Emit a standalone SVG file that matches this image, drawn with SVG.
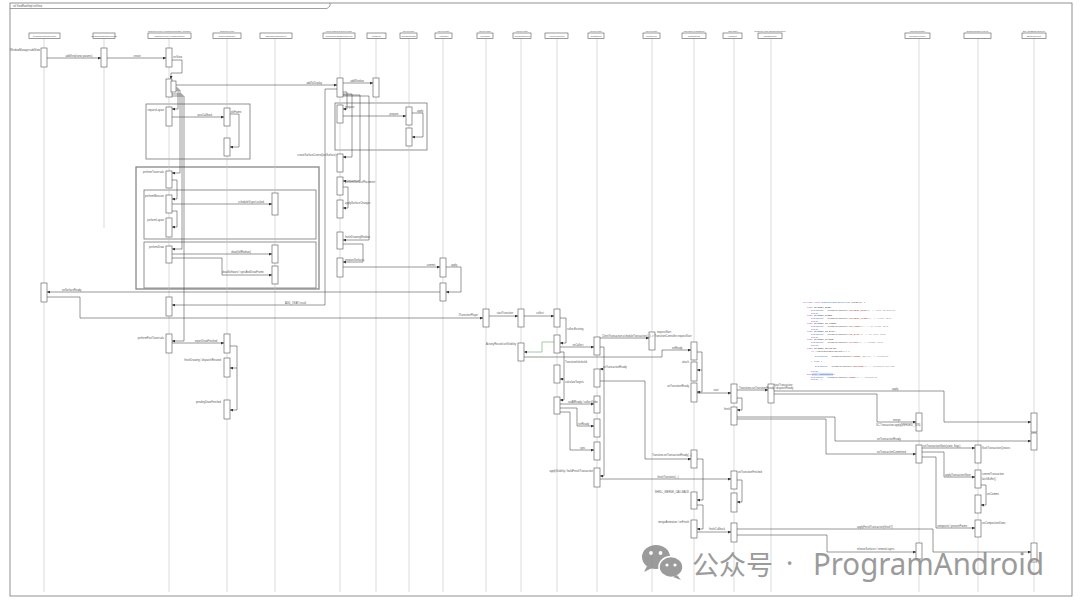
<svg xmlns="http://www.w3.org/2000/svg" width="1080" height="605" viewBox="0 0 1080 605">
<defs>
<style>
.ll{stroke:#c4c4c4;stroke-width:.6}
.hb{fill:#fff;stroke:#555;stroke-width:.6}
.act{fill:#fff;stroke:#555;stroke-width:.6}
.msg{fill:none;stroke:#444;stroke-width:.55;marker-end:url(#ah)}
.grn{fill:none;stroke:#6aa86a;stroke-width:.6;marker-end:url(#ah)}
.frag{fill:none;stroke:#777;stroke-width:.8}
.fragb{fill:none;stroke:#888;stroke-width:1.3}
.t{font-family:"Liberation Sans",Arial,sans-serif;font-size:2.6px;fill:#555}
.h{font-family:"Liberation Sans",Arial,sans-serif;font-size:2.5px;fill:#555;text-anchor:middle}
.e{text-anchor:end}
.m{text-anchor:middle}
.c{font-family:"Liberation Mono","Courier New",monospace;font-size:2.3px;fill:#333}
.kw{fill:#7a3e9d}
.fn{fill:#2b55b8}
.st{fill:#b03030}
.cm{fill:#8a8a8a}
</style>
<marker id="ah" viewBox="0 0 6 6" refX="6" refY="3" markerWidth="3" markerHeight="3" markerUnits="userSpaceOnUse" orient="auto"><path d="M0,0 L6,3 L0,6 z" fill="#333"/></marker>
</defs>
<rect x="0" y="0" width="1080" height="605" fill="#fff"/>

<g id="frame">
<rect x="10" y="3" width="1062" height="593" fill="none" stroke="#777" stroke-width="0.8"/>
<path d="M10,8.5 H327 L330,6 V3" fill="none" stroke="#777" stroke-width="0.7"/>
<text class="t" x="13" y="7">sd ViewRootImpl.setView</text>
</g>

<g id="fragments">
<rect class="frag" x="146" y="104" width="104" height="55"/>
<rect class="fragb" x="136" y="167" width="183" height="122"/>
<rect class="frag" x="144" y="190" width="172" height="49"/>
<rect class="frag" x="144" y="242" width="172" height="46"/>
<rect class="frag" x="335" y="103" width="92" height="47"/>
</g>

<g id="L1">
<line class="ll" x1="44" y1="38.5" x2="44" y2="592"/>
<rect class="hb" x="29" y="33" width="31" height="5.5"/>
<text class="h" x="44.5" y="36.7">WindowManagerImpl</text>
<rect class="act" x="41" y="48" width="6" height="19"/>
<rect class="act" x="41" y="283" width="6" height="19"/>
</g>
<g id="L2">
<line class="ll" x1="104" y1="38.5" x2="104" y2="228"/>
<rect class="hb" x="93" y="33" width="22" height="5.5"/>
<text class="h" x="104" y="36.7">WindowManagerGlobal</text>
<rect class="act" x="101" y="48" width="6" height="19"/>
</g>
<g id="L3">
<line class="ll" x1="169" y1="38.5" x2="169" y2="592"/>
<text class="h" x="169.5" y="31.5">android.view.ViewRootImpl$W (binder)</text>
<rect class="hb" x="148" y="33" width="43" height="5.5"/>
<text class="h" x="169.5" y="36.7">android.view.ViewRootImpl</text>
<rect class="act" x="166" y="48" width="6" height="19"/>
<rect class="act" x="166" y="79" width="6" height="18"/>
<rect class="act" x="171" y="81" width="5" height="11"/>
<rect class="act" x="166" y="107" width="6" height="19"/>
<rect class="act" x="166" y="171" width="6" height="17"/>
<rect class="act" x="166" y="195" width="6" height="18"/>
<rect class="act" x="166" y="218" width="6" height="19"/>
<rect class="act" x="166" y="246" width="6" height="17"/>
<rect class="act" x="166" y="297" width="6" height="19"/>
<rect class="act" x="166" y="334" width="6" height="19"/>
</g>
<g id="L4">
<line class="ll" x1="227" y1="38.5" x2="227" y2="592"/>
<text class="h" x="227" y="31.5">android.view</text>
<rect class="hb" x="213" y="33" width="28" height="5.5"/>
<text class="h" x="227" y="36.7">Choreographer</text>
<rect class="act" x="224" y="108" width="6" height="18"/>
<rect class="act" x="224" y="138" width="6" height="18"/>
<rect class="act" x="224" y="334" width="6" height="19"/>
<rect class="act" x="224" y="358" width="6" height="19"/>
<rect class="act" x="224" y="400" width="6" height="19"/>
</g>
<g id="L5">
<line class="ll" x1="275" y1="38.5" x2="275" y2="592"/>
<rect class="hb" x="260" y="33" width="32" height="5.5"/>
<text class="h" x="276" y="36.7">ThreadedRenderer</text>
<rect class="act" x="272" y="193" width="6" height="22"/>
<rect class="act" x="272" y="245" width="6" height="18"/>
<rect class="act" x="272" y="266" width="6" height="18"/>
</g>
<g id="L6">
<line class="ll" x1="340" y1="38.5" x2="340" y2="592"/>
<text class="h" x="339" y="31.5">com.android.server.wm</text>
<rect class="hb" x="323" y="33" width="32" height="5.5"/>
<text class="h" x="339" y="36.7">WindowManagerService</text>
<rect class="act" x="337" y="78" width="6" height="19"/>
<rect class="act" x="337" y="105" width="6" height="18"/>
<rect class="act" x="337" y="154" width="6" height="18"/>
<rect class="act" x="337" y="177" width="6" height="18"/>
<rect class="act" x="337" y="200" width="6" height="18"/>
<rect class="act" x="337" y="232" width="6" height="17"/>
<rect class="act" x="337" y="258" width="6" height="19"/>
</g>
<g id="L7">
<line class="ll" x1="376" y1="38.5" x2="376" y2="592"/>
<rect class="hb" x="367" y="33" width="19" height="5.5"/>
<text class="h" x="376.5" y="36.7">Session</text>
<rect class="act" x="373" y="78" width="6" height="19"/>
</g>
<g id="L8">
<line class="ll" x1="409" y1="38.5" x2="409" y2="592"/>
<text class="h" x="408.5" y="31.5">server.wm</text>
<rect class="hb" x="400" y="33" width="17" height="5.5"/>
<text class="h" x="408.5" y="36.7">WindowState</text>
<rect class="act" x="406" y="107" width="6" height="18"/>
<rect class="act" x="406" y="128" width="6" height="18"/>
</g>
<g id="L9">
<line class="ll" x1="443" y1="38.5" x2="443" y2="592"/>
<text class="h" x="443.5" y="31.5">server.wm</text>
<rect class="hb" x="435" y="33" width="17" height="5.5"/>
<text class="h" x="443.5" y="36.7">Animator</text>
<rect class="act" x="440" y="258" width="6" height="19"/>
<rect class="act" x="440" y="283" width="6" height="18"/>
</g>
<g id="L10">
<line class="ll" x1="486" y1="38.5" x2="486" y2="592"/>
<text class="h" x="485" y="31.5">server.wm</text>
<rect class="hb" x="477" y="33" width="16" height="5.5"/>
<text class="h" x="485" y="36.7">IWindow</text>
<rect class="act" x="483" y="309" width="6" height="18"/>
</g>
<g id="L11">
<line class="ll" x1="521" y1="38.5" x2="521" y2="592"/>
<text class="h" x="522" y="31.5">server.wm</text>
<rect class="hb" x="513" y="33" width="18" height="5.5"/>
<text class="h" x="522" y="36.7">WindowToken</text>
<rect class="act" x="518" y="309" width="6" height="18"/>
<rect class="act" x="518" y="343" width="6" height="18"/>
</g>
<g id="L12">
<line class="ll" x1="557" y1="38.5" x2="557" y2="592"/>
<rect class="hb" x="545" y="33" width="23" height="5.5"/>
<text class="h" x="556.5" y="36.7">ActivityRecord</text>
<rect class="act" x="554" y="309" width="6" height="18"/>
<rect class="act" x="554" y="335" width="6" height="18"/>
<rect class="act" x="554" y="365" width="6" height="18"/>
<rect class="act" x="554" y="397" width="6" height="17"/>
</g>
<g id="L13">
<line class="ll" x1="597" y1="38.5" x2="597" y2="592"/>
<text class="h" x="596" y="31.5">server.wm</text>
<rect class="hb" x="588" y="33" width="16" height="5.5"/>
<text class="h" x="596" y="36.7">Transition</text>
<rect class="act" x="594" y="337" width="6" height="18"/>
<rect class="act" x="594" y="369" width="6" height="18"/>
<rect class="act" x="594" y="396" width="6" height="17"/>
<rect class="act" x="594" y="419" width="6" height="18"/>
<rect class="act" x="594" y="442" width="6" height="18"/>
<rect class="act" x="594" y="468" width="6" height="19"/>
</g>
<g id="L14">
<line class="ll" x1="652" y1="38.5" x2="652" y2="592"/>
<text class="h" x="651.5" y="31.5">server.wm</text>
<rect class="hb" x="643" y="33" width="17" height="5.5"/>
<text class="h" x="651.5" y="36.7">Controller</text>
<rect class="act" x="649" y="332" width="6" height="18"/>
</g>
<g id="L15">
<line class="ll" x1="694" y1="38.5" x2="694" y2="592"/>
<text class="h" x="694" y="31.5">wm.shell.transition</text>
<rect class="hb" x="682" y="33" width="24" height="5.5"/>
<text class="h" x="694" y="36.7">Transitions</text>
<rect class="act" x="691" y="342" width="6" height="18"/>
<rect class="act" x="691" y="362" width="6" height="19"/>
<rect class="act" x="691" y="383" width="6" height="19"/>
<rect class="act" x="691" y="450" width="6" height="18"/>
<rect class="act" x="691" y="492" width="6" height="17"/>
<rect class="act" x="691" y="520" width="6" height="18"/>
</g>
<g id="L16">
<line class="ll" x1="734" y1="38.5" x2="734" y2="592"/>
<text class="h" x="733" y="31.5">wm.shell</text>
<rect class="hb" x="723" y="33" width="19" height="5.5"/>
<text class="h" x="732.5" y="36.7">Handler</text>
<rect class="act" x="731" y="384" width="6" height="19"/>
<rect class="act" x="731" y="407" width="6" height="18"/>
<rect class="act" x="731" y="471" width="6" height="18"/>
<rect class="act" x="731" y="493" width="6" height="19"/>
<rect class="act" x="731" y="523" width="6" height="19"/>
</g>
<g id="L17">
<line class="ll" x1="771" y1="38.5" x2="771" y2="592"/>
<text class="h" x="770" y="31.5">android.view.SurfaceControl</text>
<rect class="hb" x="758" y="33" width="24" height="5.5"/>
<text class="h" x="770" y="36.7">Transaction</text>
<rect class="act" x="768" y="384" width="6" height="19"/>
</g>
<g id="L18">
<line class="ll" x1="919" y1="38.5" x2="919" y2="592"/>
<text class="h" x="917.5" y="31.5">surfaceflinger</text>
<rect class="hb" x="905" y="33" width="25" height="5.5"/>
<text class="h" x="917.5" y="36.7">SurfaceFlinger</text>
<rect class="act" x="916" y="413" width="6" height="18"/>
<rect class="act" x="916" y="445" width="6" height="18"/>
<rect class="act" x="916" y="543" width="6" height="16"/>
</g>
<g id="L19">
<line class="ll" x1="978" y1="38.5" x2="978" y2="592"/>
<text class="h" x="977.5" y="31.5">surfaceflinger.Layer</text>
<rect class="hb" x="964" y="33" width="27" height="5.5"/>
<rect class="act" x="975" y="445" width="6" height="18"/>
<rect class="act" x="975" y="470" width="6" height="18"/>
<rect class="act" x="975" y="495" width="6" height="18"/>
<rect class="act" x="975" y="520" width="6" height="17"/>
</g>
<g id="L20">
<line class="ll" x1="1034" y1="38.5" x2="1034" y2="592"/>
<text class="h" x="1034" y="31.5">BLASTBufferQueue</text>
<rect class="hb" x="1022" y="33" width="24" height="5.5"/>
<text class="h" x="1034" y="36.7">BufferQueue</text>
<rect class="act" x="1031" y="413" width="6" height="19"/>
<rect class="act" x="1031" y="433" width="6" height="17"/>
<rect class="act" x="1031" y="543" width="6" height="19"/>
</g>

<g id="connectors">
<path class="msg" d="M47,58 H101"/>
<path class="msg" d="M107,58 H166"/>
<path class="msg" d="M172,60 H182 V73 H171 V79"/>
<path class="msg" d="M176,85 H337"/>
<path class="msg" d="M343,83 H373"/>
<path class="msg" d="M337,89 H325 V305 H172"/>
<path class="msg" d="M176,88 H178 V109 H172"/>
<path class="msg" d="M172,117 H224"/>
<path class="msg" d="M230,114 H239 V147 H230"/>
<path class="msg" d="M176,90 H180 V173 H172"/>
<path class="msg" d="M172,180 H177 V199 H172"/>
<path class="msg" d="M172,204 H272"/>
<path class="msg" d="M172,211 H177 V227 H172"/>
<path class="msg" d="M172,94 H182 V249 H172"/>
<path class="msg" d="M172,254 H272"/>
<path class="msg" d="M172,258 H222 V275 H272"/>
<path class="msg" d="M172,96 H184 V341 H172"/>
<path class="msg" d="M172,343 H224"/>
<path class="msg" d="M230,346 H237 V410 H230"/>
<path class="msg" d="M237,368 H230"/>
<path class="msg" d="M343,92 H347 V109 H343"/>
<path class="msg" d="M343,116 H406"/>
<path class="msg" d="M412,113 H423 V137 H412"/>
<path class="msg" d="M343,94 H352 V157 H343"/>
<path class="msg" d="M343,95 H360 V181 H343"/>
<path class="msg" d="M343,187 H348 V208 H343"/>
<path class="msg" d="M343,96 H369 V240 H343"/>
<path class="msg" d="M343,244 H363 V262 H343"/>
<path class="msg" d="M343,267 H440"/>
<path class="msg" d="M446,267 H461 V292 H446"/>
<path class="msg" d="M440,292 H47"/>
<path class="msg" d="M47,297 H80 V318 H483"/>
<path class="msg" d="M489,316 H518"/>
<path class="msg" d="M524,316 H554"/>
<path class="msg" d="M560,318 H566 V343 H560"/>
<path class="grn" d="M554,342 H542 V352 H524"/>
<path class="msg" d="M560,347 H594"/>
<path class="msg" d="M600,338 H649"/>
<path class="msg" d="M524,357 H662 V350 H691"/>
<path class="msg" d="M697,352 H702 V370 H697"/>
<path class="msg" d="M702,370 V392 H697"/>
<path class="msg" d="M697,393 H731"/>
<path class="msg" d="M737,390 H768"/>
<path class="msg" d="M774,391 H944 V422 H1031"/>
<path class="msg" d="M774,394 H877 V422 H916"/>
<path class="msg" d="M737,398 H742 V410 H737"/>
<path class="msg" d="M737,417 H835 V441 H1031"/>
<path class="msg" d="M737,419 H826 V454 H916"/>
<path class="msg" d="M922,448 H975"/>
<path class="msg" d="M922,452 H944 V477 H975"/>
<path class="msg" d="M981,485 H986 V505 H981"/>
<path class="msg" d="M922,457 H936 V528 H975"/>
<path class="msg" d="M600,381 H645 V459 H691"/>
<path class="msg" d="M600,347 H604 V369 H600"/>
<path class="msg" d="M604,369 V476 H600"/>
<path class="msg" d="M560,352 H564 V379 H560"/>
<path class="msg" d="M564,379 V400 H560"/>
<path class="msg" d="M560,404 H594"/>
<path class="msg" d="M560,408 H577 V426 H594"/>
<path class="msg" d="M560,412 H570 V450 H594"/>
<path class="msg" d="M600,479 H731"/>
<path class="msg" d="M737,480 H742 V502 H737"/>
<path class="msg" d="M697,459 H703 V500 H697"/>
<path class="msg" d="M697,505 H703 V529 H697"/>
<path class="msg" d="M697,532 H731"/>
<path class="msg" d="M737,529 H933 V552 H1031"/>
<path class="msg" d="M737,535 H827 V552 H916"/>
</g>

<g id="labels">
<text class="t e" x="40" y="50.5">WindowManager.addView</text>
<text class="t m" x="79" y="56.5">addView(view, params)</text>
<text class="t m" x="137" y="56.5">create</text>
<text class="t" x="173" y="57.5">setView</text>
<text class="t e" x="322" y="83.5">addToDisplay</text>
<text class="t m" x="357" y="81.5">addWindow</text>
<text class="t" x="285" y="303.5">ADD_OKAY result</text>
<text class="t e" x="164" y="110.5">requestLayout</text>
<text class="t m" x="205" y="115.5">postCallback</text>
<text class="t" x="231" y="112.5">doFrame</text>
<text class="t e" x="164" y="172.5">performTraversals</text>
<text class="t e" x="164" y="196.5">performMeasure</text>
<text class="t m" x="251" y="202.5">scheduleVsyncLocked</text>
<text class="t e" x="164" y="220.5">performLayout</text>
<text class="t e" x="164" y="247.5">performDraw</text>
<text class="t m" x="241" y="252.5">draw(fullRedraw)</text>
<text class="t m" x="243" y="273">drawSoftware / syncAndDrawFrame</text>
<text class="t e" x="164" y="339">performPostTraversals</text>
<text class="t m" x="206" y="341.5">reportDrawFinished</text>
<text class="t e" x="221" y="360.5">finishDrawing / dispatchResized</text>
<text class="t e" x="221" y="402.5">pendingDrawFinished</text>
<text class="t" x="345" y="108">relayout</text>
<text class="t m" x="394" y="114.5">prepare</text>
<text class="t" x="417" y="111.5">apply</text>
<text class="t e" x="336" y="156">createSurfaceControl(outSurface)</text>
<text class="t" x="345" y="182.5">performSurfacePlacement</text>
<text class="t" x="345" y="203.5">applySurfaceChanges</text>
<text class="t" x="345" y="237.5">finishDrawingWindow</text>
<text class="t" x="345" y="261">prepareSurfaces</text>
<text class="t m" x="431" y="265.5">commit</text>
<text class="t" x="451" y="265.5">apply</text>
<text class="t" x="62" y="290.5">onSurfaceReady</text>
<text class="t e" x="478" y="316">ITransitionPlayer</text>
<text class="t m" x="505" y="314">startTransition</text>
<text class="t m" x="540" y="314">collect</text>
<text class="t" x="567" y="329.5">collectExisting</text>
<text class="t e" x="516" y="344.5">ActivityRecord.setVisibility</text>
<text class="t m" x="578" y="345.5">onCollect</text>
<text class="t" x="602" y="336.5">ClientTransaction.scheduleTransaction(...) -&gt; TransitionController.requestStart</text>
<text class="t" x="657" y="333">requestStart</text>
<text class="t" x="672" y="348.5">onReady</text>
<text class="t e" x="689" y="363">attach</text>
<text class="t e" x="689" y="387">onTransitionReady</text>
<text class="t m" x="716" y="391">start</text>
<text class="t" x="739" y="388.5">Transitions.onTransitionReady / dispatchReady</text>
<text class="t" x="774" y="386">startTransaction</text>
<text class="t" x="892" y="389.5">apply</text>
<text class="t" x="893" y="420.5">merge</text>
<text class="t" x="876" y="426">SC.Transaction.apply(MERGED_TXN)</text>
<text class="t e" x="730" y="409.5">finish</text>
<text class="t" x="877" y="439.5">onTransactionReady</text>
<text class="t" x="877" y="452.5">onTransactionCommitted</text>
<text class="t" x="923" y="447">setTransactionState(state, flags)</text>
<text class="t" x="982" y="448.5">flushTransactionQueues</text>
<text class="t" x="945" y="475.5">applyTransactionState</text>
<text class="t" x="982" y="474.5">commitTransaction</text>
<text class="t" x="982" y="479.5">latchBuffer()</text>
<text class="t" x="987" y="494.5">onCommit</text>
<text class="t" x="937" y="526.5">composite / presentFrame</text>
<text class="t" x="982" y="523.5">onCompositionDone</text>
<text class="t" x="652" y="455.5">Transition.onTransactionReady(...)</text>
<text class="t" x="603" y="368">onTransactionReady</text>
<text class="t" x="565" y="363">TransitionInfo.build</text>
<text class="t" x="565" y="382.5">calculateTargets</text>
<text class="t" x="568" y="402.5">setAllReady / collectOrder</text>
<text class="t" x="578" y="424.5">setReady</text>
<text class="t" x="580" y="448.5">sync</text>
<text class="t e" x="593" y="471.5">applyVisibility / buildFinishTransaction</text>
<text class="t m" x="668" y="477.5">finishTransition(...)</text>
<text class="t" x="738" y="472.5">onTransitionFinished</text>
<text class="t e" x="689" y="492.5">SHELL_MERGE_CALLBACK</text>
<text class="t e" x="689" y="522.5">mergeAnimation / onFinish</text>
<text class="t m" x="717" y="529.5">finishCallback</text>
<text class="t" x="857" y="527.5">applyFinishTransaction(finishT)</text>
<text class="t" x="857" y="549.5">releaseSurfaces / removeLayers</text>
</g>

<g id="code">
<rect x="812" y="372.8" width="21" height="3" fill="#cfe0f7"/>
<text class="c" x="803" y="302.5"><tspan class="kw">private void</tspan> <tspan class="fn">handleTransitType</tspan>(<tspan class="kw">int</tspan> transit) {</text>
<text class="c" x="807" y="307.5"><tspan class="kw">case</tspan> TRANSIT_OPEN:</text>
<text class="c" x="811" y="310.5"><tspan class="fn">mAnimType</tspan> = TransitionType(<tspan class="st">"TRANSIT_OPEN"</tspan>); <tspan class="cm">// open animation</tspan></text>
<text class="c" x="811" y="313.5"><tspan class="kw">break</tspan>;</text>
<text class="c" x="807" y="315.5"><tspan class="kw">case</tspan> TRANSIT_CLOSE:</text>
<text class="c" x="811" y="318.5"><tspan class="fn">mAnimType</tspan> = TransitionType(<tspan class="st">"TRANSIT_CLOSE"</tspan>); <tspan class="cm">// close anim</tspan></text>
<text class="c" x="811" y="321.5"><tspan class="kw">break</tspan>;</text>
<text class="c" x="807" y="323.5"><tspan class="kw">case</tspan> TRANSIT_TO_FRONT:</text>
<text class="c" x="811" y="326.5"><tspan class="fn">mAnimType</tspan> = TransitionType(<tspan class="st">"TO_FRONT"</tspan>); <tspan class="cm">// to front anim</tspan></text>
<text class="c" x="811" y="329.5"><tspan class="kw">break</tspan>;</text>
<text class="c" x="807" y="331.5"><tspan class="kw">case</tspan> TRANSIT_TO_BACK:</text>
<text class="c" x="811" y="334.5"><tspan class="fn">mAnimType</tspan> = TransitionType(<tspan class="st">"TO_BACK"</tspan>); <tspan class="cm">// to back anim</tspan></text>
<text class="c" x="811" y="337.5"><tspan class="kw">break</tspan>;</text>
<text class="c" x="807" y="339.5"><tspan class="kw">case</tspan> TRANSIT_CHANGE:</text>
<text class="c" x="811" y="342.5"><tspan class="fn">mAnimType</tspan> = TransitionType(<tspan class="st">"CHANGE"</tspan>); <tspan class="cm">// change anim</tspan></text>
<text class="c" x="811" y="345.5"><tspan class="kw">break</tspan>;</text>
<text class="c" x="807" y="348.5"><tspan class="kw">case</tspan> TRANSIT_KEYGUARD:</text>
<text class="c" x="811" y="351.5"><tspan class="kw">if</tspan> (isKeyguardGoingAway()) {</text>
<text class="c" x="815" y="357"><tspan class="fn">mAnimType</tspan> = TransitionType(<tspan class="st">"GOING_AWAY"</tspan>); <tspan class="cm">// keyguard</tspan></text>
<text class="c" x="811" y="362"><tspan class="kw">} else</tspan> {</text>
<text class="c" x="815" y="367"><tspan class="fn">mAnimType</tspan> = TransitionType(<tspan class="st">"OCCLUDE"</tspan>); <tspan class="cm">// keyguard occlude</tspan></text>
<text class="c" x="811" y="372"><tspan class="kw">break</tspan>;</text>
<text class="c" x="807" y="375"><tspan class="kw">default</tspan>: <tspan class="fn">unknownType</tspan></text>
<text class="c" x="811" y="377.7"><tspan class="fn">mAnimType</tspan> = TransitionType(<tspan class="st">"NONE"</tspan>); <tspan class="cm">// unhandled</tspan></text>
<text class="c" x="811" y="380.4"><tspan class="kw">break</tspan>; }</text>
</g>

<g id="watermark" opacity="0.85">
<ellipse cx="656" cy="557" rx="14" ry="12" fill="#8a8a8a"/>
<path d="M647,566 L644,572 L652,568 z" fill="#8a8a8a"/>
<circle cx="651" cy="553" r="1.9" fill="#fff"/>
<circle cx="660.5" cy="553" r="1.9" fill="#fff"/>
<ellipse cx="671" cy="567" rx="12" ry="10.5" fill="#8a8a8a" stroke="#fff" stroke-width="1.6"/>
<path d="M677,575 L681,580 L673,577 z" fill="#8a8a8a"/>
<circle cx="667" cy="565" r="1.6" fill="#fff"/>
<circle cx="675" cy="565" r="1.6" fill="#fff"/>
<text x="692" y="575" font-family="'Noto Sans CJK SC','Noto Sans',sans-serif" font-size="27" fill="#8a8a8a" textLength="81" lengthAdjust="spacingAndGlyphs">公众号</text>
<text x="786" y="573" font-family="'Noto Sans',sans-serif" font-size="27" fill="#8a8a8a">·</text>
<text x="813" y="575" font-family="'Noto Sans',sans-serif" font-size="30" fill="#8a8a8a" textLength="231" lengthAdjust="spacingAndGlyphs">ProgramAndroid</text>
</g>
</svg>
